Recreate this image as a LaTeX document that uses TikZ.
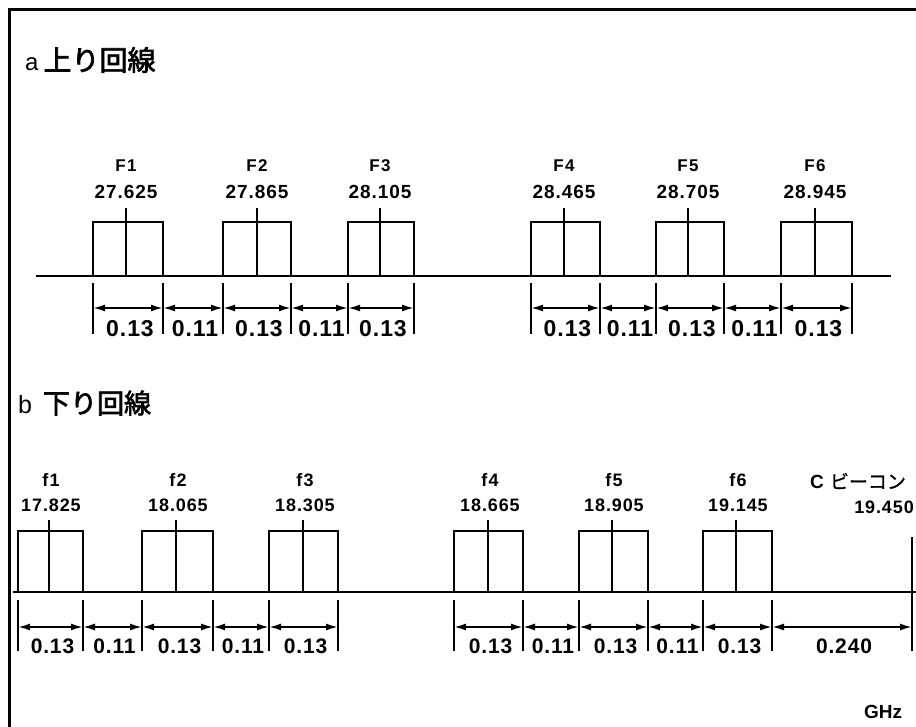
\documentclass[tikz,border=0pt]{standalone}
\usepackage{fontspec}
\setmainfont{Liberation Sans}
\newfontfamily\cjk[FakeBold=1]{Noto Sans CJK JP}
\newfontfamily\cjkb[FakeBold=2.5]{Noto Sans CJK JP}
\usetikzlibrary{arrows.meta,calc}
\begin{document}
\begin{tikzpicture}[x=1pt,y=-1pt,
  frameline/.style={line width=3pt},
  baseline/.style={line width=2.2pt},
  chbox/.style={line width=2.4pt},
  cline/.style={line width=1.8pt},
  tickline/.style={line width=1.6pt},
  dimline/.style={line width=1.8pt,{Latex[length=12pt,width=7pt]}-{Latex[length=12pt,width=7pt]}},
  txt/.style={inner sep=0pt},
  namea/.style={txt,font=\bfseries\addfontfeature{LetterSpace=8}\fontsize{17}{17}\selectfont},
  freqa/.style={txt,font=\bfseries\addfontfeature{LetterSpace=5}\fontsize{19}{19}\selectfont},
  dima/.style={txt,font=\bfseries\addfontfeature{LetterSpace=4}\fontsize{23}{23}\selectfont},
  nameb/.style={txt,font=\bfseries\addfontfeature{LetterSpace=8}\fontsize{18}{18}\selectfont},
  freqb/.style={txt,font=\bfseries\addfontfeature{LetterSpace=5}\fontsize{18}{18}\selectfont},
  dimb/.style={txt,font=\bfseries\addfontfeature{LetterSpace=4}\fontsize{21}{21}\selectfont},
  title/.style={txt,anchor=west},
]
\useasboundingbox (0,0) rectangle (916,727);
% frame
\draw[frameline] (9,727) -- (9,10) -- (930,10);

% ---------- panel a ----------
\node[title] (titlea) at (25,60) {{\fontsize{24}{24}\selectfont a}\hspace{5pt}{\cjkb\fontsize{28}{28}\selectfont 上り回線}};
\draw[baseline] (36,276) -- (891,276);
\foreach \l/\r/\c/\n/\f [count=\i] in {93/163/126/F1/27.625, 223/291/257/F2/27.865, 348/414/380/F3/28.105, 531/600/564/F4/28.465, 656/724/688/F5/28.705, 781/852/815/F6/28.945}{
  \draw[chbox] (\l,276) -- (\l,222) -- (\r,222) -- (\r,276);
  \draw[cline] (\c,276) -- (\c,208);
  \node[namea] (Fn\i) at (\c,166) {\n};
  \node[freqa] (Fv\i) at (\c,192) {\f};
}
\foreach \x [count=\i] in {93,163,223,291,348,414,531,600,656,724,781,852}{
  \coordinate (ta\i) at (\x,308);
  \draw[tickline] (\x,283) -- (\x,334);
}
\foreach \i/\j/\t in {1/2/0.13, 2/3/0.11, 3/4/0.13, 4/5/0.11, 5/6/0.13, 7/8/0.13, 8/9/0.11, 9/10/0.13, 10/11/0.11, 11/12/0.13}{
  \draw[dimline] (ta\i) -- (ta\j);
  \node[dima] (da\i) at ($(ta\i)!0.5!(ta\j)+(2,21)$) {\t};
}

% ---------- panel b ----------
\node[title] (titleb) at (18,403) {{\fontsize{25}{25}\selectfont b}\hspace{11pt}{\cjkb\fontsize{27}{27}\selectfont 下り回線}};
\draw[baseline] (13,592) -- (930,592);
\foreach \l/\r/\c/\n/\f [count=\i] in {18/83/49/f1/17.825, 142/213/176/f2/18.065, 269/338/303/f3/18.305, 454/523/488/f4/18.665, 579/648/612/f5/18.905, 703/772/736/f6/19.145}{
  \draw[chbox] (\l,592) -- (\l,531) -- (\r,531) -- (\r,592);
  \draw[cline] (\c,592) -- (\c,520);
  \node[nameb] (fn\i) at (\c+2,480) {\n};
  \node[freqb] (fv\i) at (\c+2,505) {\f};
}
\draw[cline] (912,537) -- (912,592);
\node[txt,anchor=west] (cbeacon) at (810,481) {{\bfseries\fontsize{19}{19}\selectfont C}\hspace{6pt}{\cjk\fontsize{19}{19}\selectfont ビーコン}};
\node[freqb,anchor=east] (beacon) at (914,507) {19.450};
\foreach \x [count=\i] in {18,83,142,213,269,338,454,523,579,648,703,772,912}{
  \coordinate (tb\i) at (\x,627);
  \draw[tickline] (\x,600) -- (\x,651);
}
\draw[cline] (912,592) -- (912,651);
\foreach \i/\j/\t in {1/2/0.13, 2/3/0.11, 3/4/0.13, 4/5/0.11, 5/6/0.13, 7/8/0.13, 8/9/0.11, 9/10/0.13, 10/11/0.11, 11/12/0.13, 12/13/0.240}{
  \draw[dimline] (tb\i) -- (tb\j);
  \node[dimb] (db\i) at ($(tb\i)!0.5!(tb\j)+(2,19)$) {\t};
}
\node[txt,font=\bfseries\fontsize{19}{19}\selectfont] (ghz) at (883,712) {GHz};
\end{tikzpicture}
\end{document}
